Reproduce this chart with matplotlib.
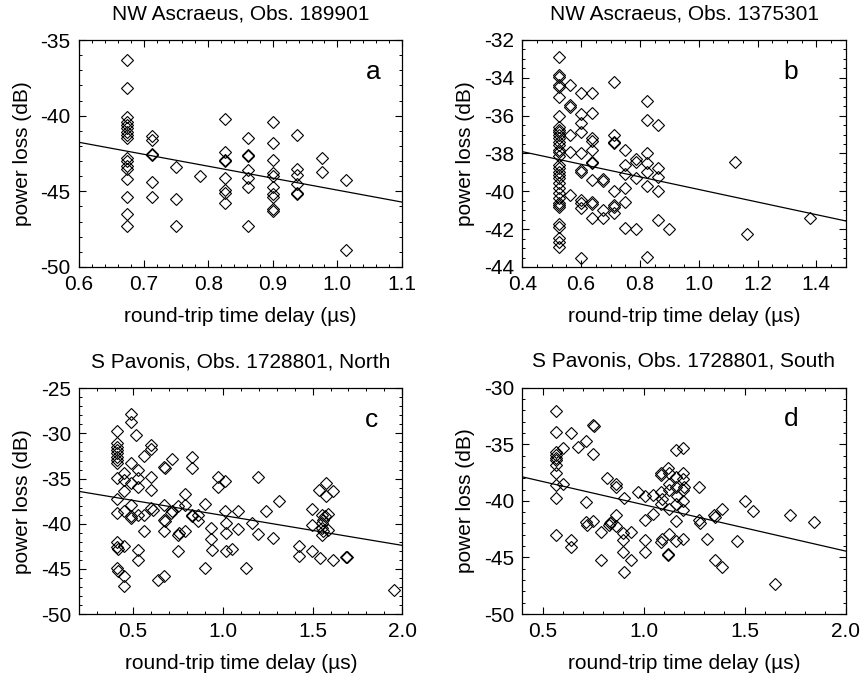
import numpy as np
import matplotlib
matplotlib.use('Agg')
from matplotlib import pyplot as plt
from matplotlib.ticker import MultipleLocator

plt.rcParams['font.family'] = ['Liberation Sans', 'DejaVu Sans']
plt.rcParams['axes.unicode_minus'] = False

# panel a: NW Ascraeus, Obs. 189901
a_delay = [0.675] * 17 + [0.7125] * 6 + [0.75] * 3 + [0.788] + [0.826] * 8 + [0.862] * 7 + \
    [0.901] * 10 + [0.938] * 6 + [0.976] * 2 + [1.013] * 2
a_loss = [-36.3, -38.15, -40.1, -40.4, -40.6, -40.8, -41.1, -41.3, -41.5, -42.8, -43.0, -43.3, -43.5,
          -44.2, -45.35, -46.5, -47.3,
          -41.35, -41.6, -42.5, -42.6, -44.4, -45.4,
          -43.4, -45.5, -47.3,
          -44.0,
          -40.2, -42.4, -42.9, -43.0, -44.1, -44.9, -45.1, -45.8,
          -41.5, -42.6, -42.65, -43.6, -44.1, -44.7, -47.3,
          -40.4, -41.8, -42.9, -43.8, -44.0, -44.7, -45.2, -45.4, -46.2, -46.3,
          -41.3, -43.5, -43.9, -44.5, -45.1, -45.2,
          -42.8, -43.7,
          -44.25, -48.9]

# panel b: NW Ascraeus, Obs. 1375301
b_delay = [0.526] * 34 + [0.562] * 6 + [0.6] * 11 + [0.637] * 11 + [0.676] * 4 + [0.713] * 8 + \
    [0.75] * 6 + [0.787] * 4 + [0.823] * 7 + [0.863] * 5 + [0.9, 1.125, 1.163, 1.379]
b_loss = [-32.9, -33.85, -33.94, -34.38, -34.5, -35.0, -36.0, -36.58, -36.76, -36.88, -37.02, -37.2,
          -37.37, -37.55, -37.81, -37.94, -38.11, -38.6, -38.78, -38.96, -39.14, -39.31, -39.58,
          -39.84, -40.1, -40.37, -40.63, -40.72, -40.81, -41.74, -41.87, -42.48, -42.66, -42.92,
          -34.38, -35.44, -35.52, -37.02, -37.9, -40.19,
          -34.82, -35.93, -36.4, -36.88, -37.96, -38.87, -38.96, -40.46, -40.63, -40.9, -43.54,
          -34.82, -35.88, -37.2, -37.34, -37.81, -38.43, -38.52, -39.4, -40.54, -40.67, -41.39,
          -39.35, -39.45, -40.99, -41.39,
          -34.24, -37.02, -37.37, -37.46, -39.98, -40.72, -40.81, -41.16,
          -37.81, -38.6, -39.1, -39.81, -40.55, -41.96,
          -38.31, -38.43, -39.31, -42.0,
          -35.22, -36.23, -37.99, -38.52, -38.96, -39.72, -43.45,
          -36.49, -38.78, -39.22, -39.96, -41.51,
          -42.0, -38.43, -42.27, -41.43]

# panel c: S Pavonis, Obs. 1728801, North
c_delay = [0.488, 0.488, 0.412, 0.516, 0.412, 0.412, 0.412, 0.412, 0.412, 0.412, 0.412,
           0.6, 0.6, 0.562, 0.715, 0.827, 0.674, 0.678, 0.827, 0.488, 0.525, 0.451, 0.412, 0.525,
           0.6, 0.451, 0.488, 0.529, 0.975, 0.975, 1.012, 1.198, 0.6, 0.451, 0.789, 0.412, 0.488,
           0.451, 0.412, 0.488, 0.49, 0.525, 0.562, 0.6, 0.608, 0.562, 0.674, 0.715, 0.71, 0.674,
           0.678, 0.674, 0.752, 0.789, 0.752, 0.756, 0.789, 0.827, 0.83, 0.863, 0.863, 0.9, 0.934,
           0.934, 0.938, 1.012, 1.015, 1.015, 1.02, 1.05, 1.086, 1.086, 1.164, 1.198, 1.239, 1.278,
           1.313, 0.9, 1.128, 0.752, 0.525, 0.529, 0.451, 0.412, 0.412, 0.418, 0.412, 0.418, 0.451,
           0.451, 0.637, 0.674, 1.425, 1.425, 1.499, 1.499, 1.499, 1.542, 1.536, 1.573, 1.577,
           1.612, 1.55, 1.56, 1.57, 1.55, 1.555, 1.56, 1.55, 1.585, 1.585, 1.612, 1.687, 1.69, 1.955]
c_loss = [-27.84, -28.69, -29.68, -30.16, -31.08, -31.45, -31.82, -32.19, -32.56, -32.93, -33.22,
          -31.27, -31.75, -32.49, -32.85, -32.63, -33.74, -33.85, -33.85, -33.22, -34.1, -34.33,
          -34.96, -34.96, -34.77, -35.21, -35.5, -35.88, -34.77, -35.88, -35.32, -34.77, -36.25,
          -36.43, -36.69, -37.28, -37.9, -38.64, -38.83, -39.2, -39.4, -39.0, -39.0, -38.27, -38.46,
          -40.86, -37.9, -38.57, -38.83, -39.56, -39.75, -40.86, -38.0, -37.9, -41.2, -41.04,
          -40.86, -39.0, -39.2, -39.0, -39.75, -37.8, -40.49, -41.7, -42.88, -38.57, -39.93, -41.04,
          -43.07, -42.81, -38.64, -40.6, -39.93, -41.15, -38.64, -41.6, -37.43, -44.91, -44.91,
          -43.0, -42.88, -44.06, -42.5, -42.07, -42.59, -42.81, -44.91, -45.28, -45.83, -46.94,
          -46.2, -45.83, -42.44, -43.55, -43.07, -38.38, -40.12, -43.8, -36.25, -35.51, -36.98,
          -36.43, -39.0, -39.56, -39.2, -39.93, -40.49, -40.86, -41.22, -38.9, -40.67, -43.99,
          -43.7, -43.7, -47.3]

# panel d: S Pavonis, Obs. 1728801, South
d_delay = [0.565, 0.565, 0.64, 0.751, 0.753, 0.715, 0.677, 0.603, 0.565, 0.565, 0.565, 0.565,
           0.565, 0.565, 0.565, 0.565, 0.603, 0.751, 0.821, 0.864, 0.864, 0.903, 0.974, 1.007,
           1.048, 0.715, 0.715, 0.718, 0.751, 0.788, 0.83, 0.834, 0.838, 0.864, 0.864, 0.9, 0.9,
           0.9, 0.903, 0.937, 0.94, 0.788, 0.64, 0.64, 0.565, 1.007, 1.007, 1.007, 1.048, 1.085,
           1.085, 1.085, 1.123, 1.128, 1.128, 1.128, 1.128, 1.128, 1.09, 1.085, 1.123, 1.123,
           1.161, 1.197, 1.161, 1.161, 1.164, 1.161, 1.161, 1.161, 1.197, 1.197, 1.2, 1.197, 1.197,
           1.197, 1.197, 1.09, 1.085, 1.276, 1.276, 1.28, 1.316, 1.349, 1.354, 1.354, 1.387, 1.387,
           1.464, 1.502, 1.541, 1.651, 1.725, 1.845]
d_loss = [-32.06, -33.89, -33.98, -33.3, -33.4, -34.69, -35.22, -35.31, -35.66, -35.96, -36.19,
          -36.4, -36.84, -37.58, -38.61, -39.73, -38.52, -35.9, -37.96, -38.47, -38.82, -39.79,
          -39.26, -39.56, -39.5, -40.09, -41.86, -42.15, -41.77, -42.74, -42.15, -42.0, -41.86,
          -41.21, -42.24, -42.83, -43.48, -44.51, -46.28, -42.74, -45.19, -45.25, -43.42, -44.07,
          -42.98, -41.65, -43.42, -44.51, -41.12, -39.2, -37.73, -37.58, -37.14, -37.58, -38.47,
          -39.06, -40.68, -42.95, -43.33, -43.63, -44.72, -44.8, -35.52, -35.31, -37.88, -38.76,
          -39.56, -40.3, -41.77, -43.54, -37.52, -38.11, -38.76, -39.06, -40.0, -40.83, -43.33,
          -39.88, -40.24, -38.82, -41.71, -42.0, -43.33, -41.27, -41.42, -45.19, -40.68, -45.84,
          -43.54, -40.0, -40.88, -47.37, -41.21, -41.9]

# least-squares lines drawn in the figure: [intercept at 0 us, slope per us]
fit_a = [-37.02, -7.9]
fit_b = [-36.57, -3.33]
fit_c = [-35.76, -3.32]
fit_d = [-36.24, -4.1]

titles = ['NW Ascraeus, Obs. 189901', 'NW Ascraeus, Obs. 1375301',
          'S Pavonis, Obs. 1728801, North', 'S Pavonis, Obs. 1728801, South']
letters = ['a', 'b', 'c', 'd']

W, H = 866, 679
fig = plt.figure(figsize=(W / 100, H / 100), dpi=100)

# axes boxes in pixels: left, right, top, bottom
boxes = [(79, 402, 40, 267), (522.3, 845.7, 40, 267),
         (79.3, 402.3, 388.3, 614), (522.3, 845.7, 387.7, 614)]
# xlim, ylim, x major/minor, y major/minor
settings = [
    ((0.6, 1.1), (-50, -35), 0.1, 0.02, 5, 1),
    ((0.4, 1.5), (-44, -32), 0.2, 0.05, 2, 0.5),
    ((0.2, 2.0), (-50, -25), 0.5, 0.1, 5, 1),
    ((0.4, 2.0), (-50, -30), 0.5, 0.1, 5, 1),
]
letter_x = [0.91, 0.83, 0.906, 0.83]
data = [(a_delay, a_loss, fit_a), (b_delay, b_loss, fit_b),
        (c_delay, c_loss, fit_c), (d_delay, d_loss, fit_d)]

fs = 15
for i in range(4):
    l, r, t, b = boxes[i]
    ax = fig.add_axes([l / W, 1 - b / H, (r - l) / W, (b - t) / H])
    xlim, ylim, xmaj, xmin, ymaj, ymin = settings[i]
    xs, ys, fit = data[i]
    ax.plot(xs, ys, linestyle='none', marker='D', ms=6.0, mfc='none', mec='black', mew=0.8)
    lx = np.array(xlim)
    ax.plot(lx, fit[0] + fit[1] * lx, color='black', lw=0.9)
    ax.set_xlim(xlim)
    ax.set_ylim(ylim)
    ax.xaxis.set_major_locator(MultipleLocator(xmaj))
    ax.xaxis.set_minor_locator(MultipleLocator(xmin))
    ax.yaxis.set_major_locator(MultipleLocator(ymaj))
    ax.yaxis.set_minor_locator(MultipleLocator(ymin))
    ax.xaxis.set_major_formatter(matplotlib.ticker.FormatStrFormatter('%.1f'))
    ax.yaxis.set_major_formatter(matplotlib.ticker.FormatStrFormatter('%d'))
    ax.tick_params(which='both', direction='in', top=True, right=True, labelsize=fs)
    ax.tick_params(axis='x', pad=6)
    ax.tick_params(axis='y', pad=6)
    ax.tick_params(which='major', length=5, width=0.8)
    ax.tick_params(which='minor', length=2.5, width=0.7)
    for s in ax.spines.values():
        s.set_linewidth(0.9)
    ax.set_title(titles[i], fontsize=fs, pad=15)
    ax.set_xlabel('round-trip time delay (\u00b5s)', fontsize=fs, labelpad=9)
    ax.set_ylabel('power loss (dB)', fontsize=fs, labelpad=6)
    ax.text(letter_x[i], 0.86, letters[i], transform=ax.transAxes, fontsize=19,
            ha='center', va='center')

fig.savefig('out.png', dpi=100)
